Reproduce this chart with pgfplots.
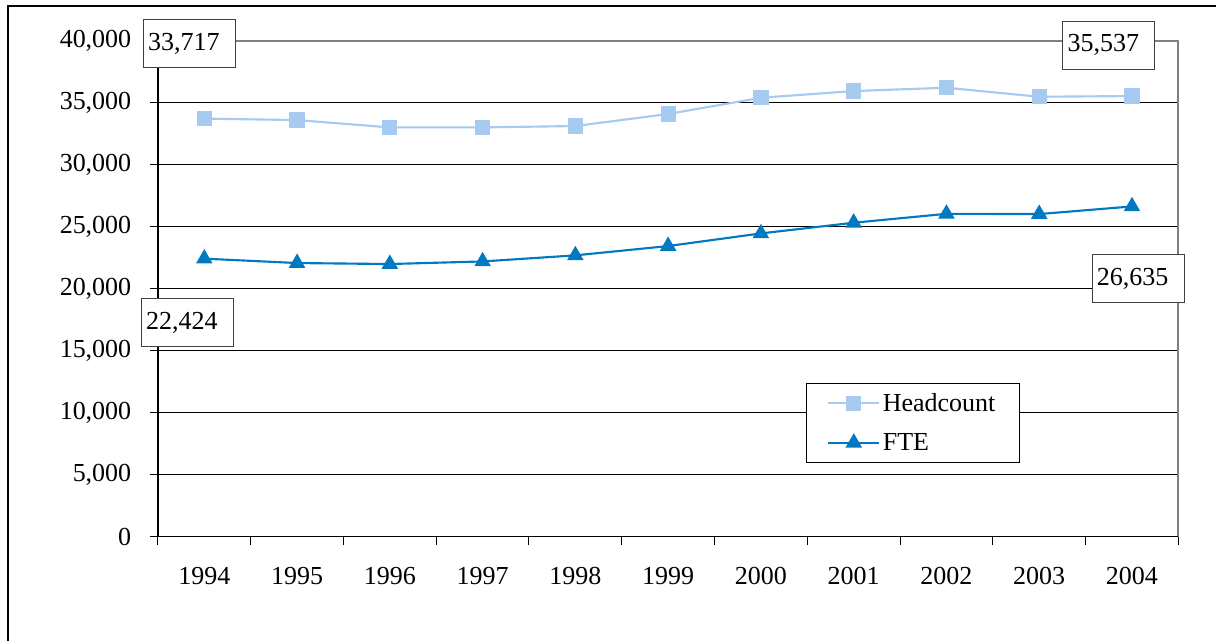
\documentclass[border=0pt]{standalone}
\usepackage{fontspec}
\setmainfont{Liberation Serif}
\usepackage{pgfplots}
\pgfplotsset{compat=1.18}
\usepackage{pgfplotstable}

\definecolor{headc}{HTML}{A6CAF0}
\definecolor{ftec}{HTML}{0079C1}
\definecolor{frameg}{HTML}{808080}
\newcommand\chartfont{\fontsize{19.5}{23.4}\selectfont}

% Staff numbers per year (x = 0 is 1994)
\pgfplotstableread{
x  head   fte
0  33717  22424
1  33600  22070
2  33010  21990
3  33010  22200
4  33120  22690
5  34090  23440
6  35400  24460
7  35940  25320
8  36210  26040
9  35480  26020
10 35537  26635
}\staff

\begin{document}
\begin{tikzpicture}
% page extent and outer frame (top and left edges)
\path (0pt,0pt) rectangle (912.75pt,-480.75pt);
\draw[black, line width=1pt] (6pt,-480.75pt) -- (6pt,-4.5pt) -- (912.75pt,-4.5pt);

\begin{axis}[
  at={(118.5pt,-402.75pt)}, anchor=south west,
  scale only axis,
  width=765.75pt, height=372.2pt,
  xmin=-0.5, xmax=10.5,
  ymin=0, ymax=40000,
  clip=false,
  axis line style={draw=none},
  tick align=outside,
  tick pos=left,
  xtick={0,...,10},
  xticklabels={1994,1995,1996,1997,1998,1999,2000,2001,2002,2003,2004},
  major x tick style={draw=none},
  minor xtick={-0.5,0.5,...,10.5},
  minor tick length=6pt,
  major tick length=6pt,
  every tick/.style={black, line width=0.75pt},
  ytick={0,5000,...,40000},
  ymajorgrids,
  grid style={black, line width=0.7pt},
  scaled y ticks=false,
  /pgf/number format/.cd, 1000 sep={,}, assume math mode=true, /pgfplots/.cd,
  tick label style={font=\chartfont},
  yticklabel style={xshift=-10.5pt},
  xticklabel style={yshift=-13.5pt},
  legend style={
    at={(0.6347,0.3103)}, anchor=north west,
    draw=black, line width=0.75pt, fill=white,
    font=\chartfont, inner xsep=16pt, inner ysep=5.5pt,
    row sep=11pt,
  },
  legend cell align=left,
  legend image code/.code={
    \draw[mark repeat=2, mark phase=2] plot coordinates {(0pt,0pt) (19pt,0pt) (38pt,0pt)};
  },
]
\addplot[headc, line width=1.6pt, mark=square*, mark size=4.9pt,
  mark options={solid, fill=headc, draw=headc}] table[x=x, y=head] {\staff};
\addlegendentry{Headcount}
\addplot[ftec, line width=1.6pt, mark=triangle*, mark size=5.6pt,
  mark options={solid, fill=ftec, draw=ftec}] table[x=x, y=fte] {\staff};
\addlegendentry{FTE}

% plot area border: top and right in grey, left and bottom in black
\draw[frameg, line width=1.3pt] (rel axis cs:0,1) -- (rel axis cs:1,1) -- (rel axis cs:1,0);
\draw[black, line width=1pt] (rel axis cs:0,1) -- (rel axis cs:0,0) -- (rel axis cs:1,0);

% first and last values
\tikzset{vlabel/.style={draw=black!75, line width=0.75pt, fill=white,
  font=\chartfont, minimum width=69pt, minimum height=36pt,
  text width=62pt, inner xsep=3.5pt, align=left}}
\node[vlabel, xshift=-11.2pt, yshift=56.4pt] at (axis cs:0,33717) {33,717};
\node[vlabel, xshift=-12.7pt, yshift=-48pt] at (axis cs:0,22424) {22,424};
\node[vlabel, xshift=-17.3pt, yshift=38.3pt] at (axis cs:10,35537) {35,537};
\node[vlabel, xshift=4.6pt, yshift=-54pt] at (axis cs:10,26635) {26,635};
\end{axis}
\end{tikzpicture}
\end{document}
